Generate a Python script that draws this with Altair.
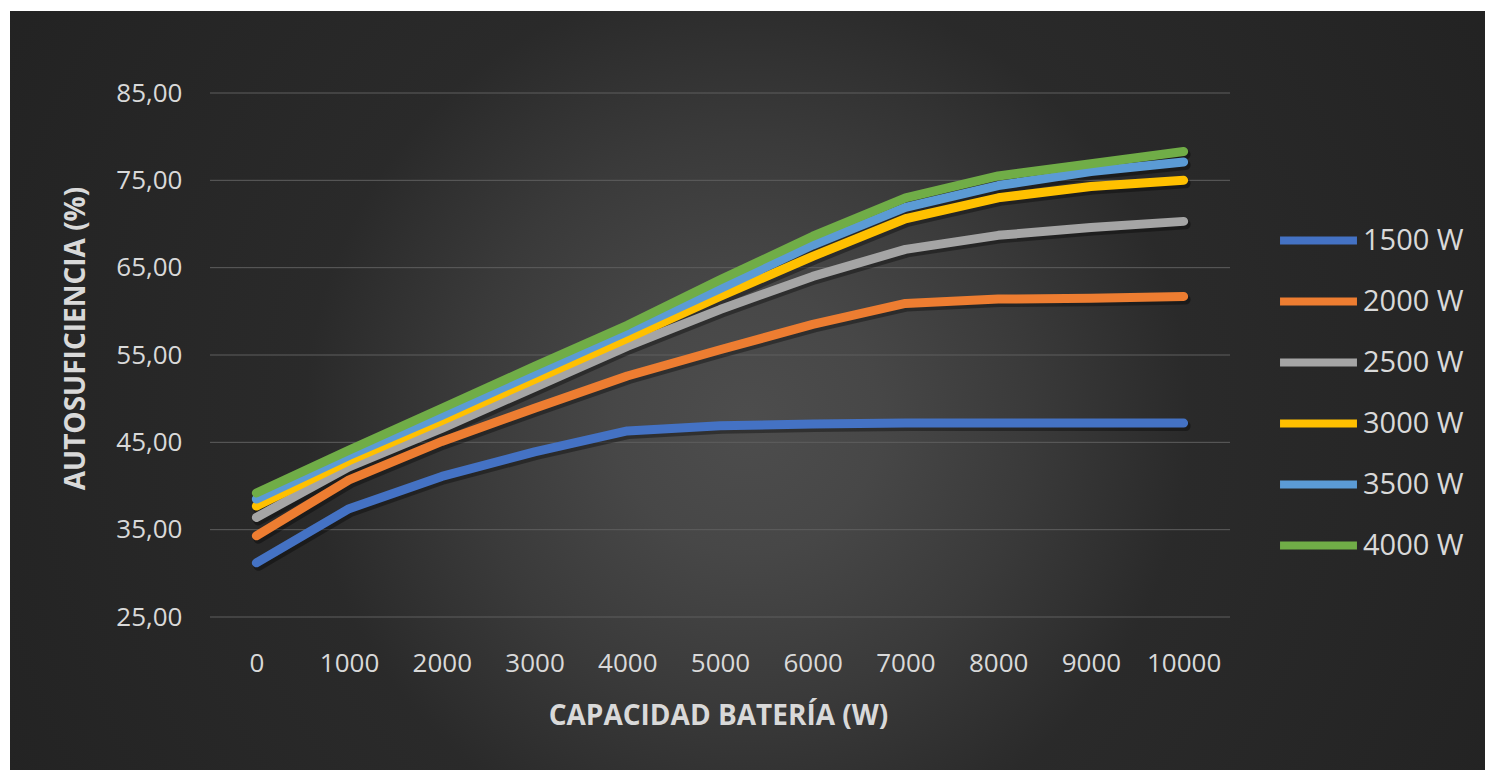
import altair as alt
import pandas as pd

# Battery capacity (W) on the x axis
capacidad = [0, 1000, 2000, 3000, 4000, 5000, 6000, 7000, 8000, 9000, 10000]

# PV installation size for each series
series = ["1500 W", "2000 W", "2500 W", "3000 W", "3500 W", "4000 W"]
colores = ["#4472C4", "#ED7D31", "#A5A5A5", "#FFC000", "#5B9BD5", "#70AD47"]

# Self-sufficiency (%) for each series
aut_1500 = [31.2, 37.4, 41.1, 43.9, 46.3, 46.9, 47.1, 47.2, 47.2, 47.2, 47.2]
aut_2000 = [34.3, 40.7, 45.1, 48.9, 52.6, 55.6, 58.5, 60.9, 61.4, 61.5, 61.7]
aut_2500 = [36.4, 42.2, 46.6, 51.3, 56.0, 60.2, 64.0, 67.1, 68.7, 69.6, 70.3]
aut_3000 = [37.7, 42.9, 47.5, 52.2, 56.9, 61.7, 66.3, 70.6, 73.0, 74.3, 75.0]
aut_3500 = [38.5, 43.5, 48.1, 52.9, 57.7, 62.6, 67.6, 71.9, 74.4, 76.0, 77.1]
aut_4000 = [39.2, 44.1, 48.9, 53.7, 58.4, 63.6, 68.6, 73.0, 75.5, 76.9, 78.3]

y_ticks = [25, 35, 45, 55, 65, 75, 85]

valores = [aut_1500, aut_2000, aut_2500, aut_3000, aut_3500, aut_4000]
rows = []
for nombre, serie in zip(series, valores):
    for cap, v in zip(capacidad, serie):
        rows.append({"cap": cap, "serie": nombre, "aut": v})
df = pd.DataFrame(rows)

W, H = 1020, 524
TXT = "#D9D9D9"
FONT = "Open Sans"

y_scale = alt.Scale(domain=[25, 85], nice=False, zero=False)
y_axis = alt.Axis(
    values=y_ticks,
    labelExpr="replace(format(datum.value, '.2f'), '.', ',')",
    labelPadding=28,
    labelBaseline="middle",
    title="AUTOSUFICIENCIA (%)",
    titleX=-134,
    titleY=245,
    titleAngle=270,
    titleBaseline="middle",
    titleAlign="center",
    grid=False,
    domain=False,
    ticks=False,
    tickSize=0,
    zindex=2,
)
x_axis = alt.Axis(
    labelAngle=0,
    labelPadding=46,
    labelBaseline="middle",
    title="CAPACIDAD BATERÍA (W)",
    titleX=508,
    titleY=99,
    titleBaseline="middle",
    titleAlign="center",
    grid=False,
    domain=False,
    ticks=False,
    tickSize=0,
    zindex=2,
)

# chart-area background with a soft radial gradient
fondo = alt.Chart(pd.DataFrame({"k": [0]})).mark_rect(
    fill={
        "gradient": "radial",
        "x1": 0.5, "y1": 0.52, "x2": 0.5, "y2": 0.52, "r1": 0, "r2": 0.6,
        "stops": [
            {"offset": 0.0, "color": "#4d4d4d"},
            {"offset": 0.15, "color": "#474747"},
            {"offset": 0.32, "color": "#3a3a3a"},
            {"offset": 0.5, "color": "#2a2a2a"},
            {"offset": 1.0, "color": "#222222"},
        ],
    }
).encode(
    x=alt.value(-200), x2=alt.value(W + 255),
    y=alt.value(-82), y2=alt.value(H + 153),
)

# horizontal gridlines
rejilla = alt.Chart(pd.DataFrame({"aut": y_ticks})).mark_rule(
    color="#5E5E5E", strokeWidth=1
).encode(
    y=alt.Y("aut:Q", scale=y_scale, axis=y_axis),
    x=alt.value(0), x2=alt.value(W),
)

x_enc = alt.X("cap:O", axis=x_axis, sort=capacidad)
y_enc = alt.Y("aut:Q", scale=y_scale, axis=y_axis)

# drop shadow under each line
sombra = alt.Chart(df).mark_line(
    color="black", opacity=0.35, strokeWidth=10, strokeCap="round",
    strokeJoin="round", xOffset=2, yOffset=3,
).encode(x=x_enc, y=y_enc, detail="serie:N")

lineas = alt.Chart(df).mark_line(
    strokeWidth=9, strokeCap="round", strokeJoin="round"
).encode(
    x=x_enc,
    y=y_enc,
    color=alt.Color(
        "serie:N",
        scale=alt.Scale(domain=series, range=colores),
        legend=alt.Legend(
            title=None,
            orient="none",
            direction="vertical",
            legendX=1094,
            legendY=133,
            symbolType="M-4,0L4,0",
            symbolSize=370,
            symbolStrokeWidth=8,
            labelFontSize=29,
            labelFont=FONT,
            labelColor=TXT,
            labelOffset=30,
            rowPadding=28,
            padding=0,
            zindex=2,
        ),
    ),
)

chart = alt.layer(fondo, rejilla, sombra, lineas).properties(
    width=W,
    height=H,
    autosize="none",
    padding={"left": 210, "top": 93, "right": 255, "bottom": 153},
    background="white",
).configure_view(stroke=None).configure_axis(
    labelColor=TXT,
    labelFont=FONT,
    labelFontSize=26,
    titleColor=TXT,
    titleFont=FONT,
    titleFontSize=28,
    titleFontWeight="bold",
)

chart.save("out.html", embed_options={"renderer": "svg", "actions": False})
